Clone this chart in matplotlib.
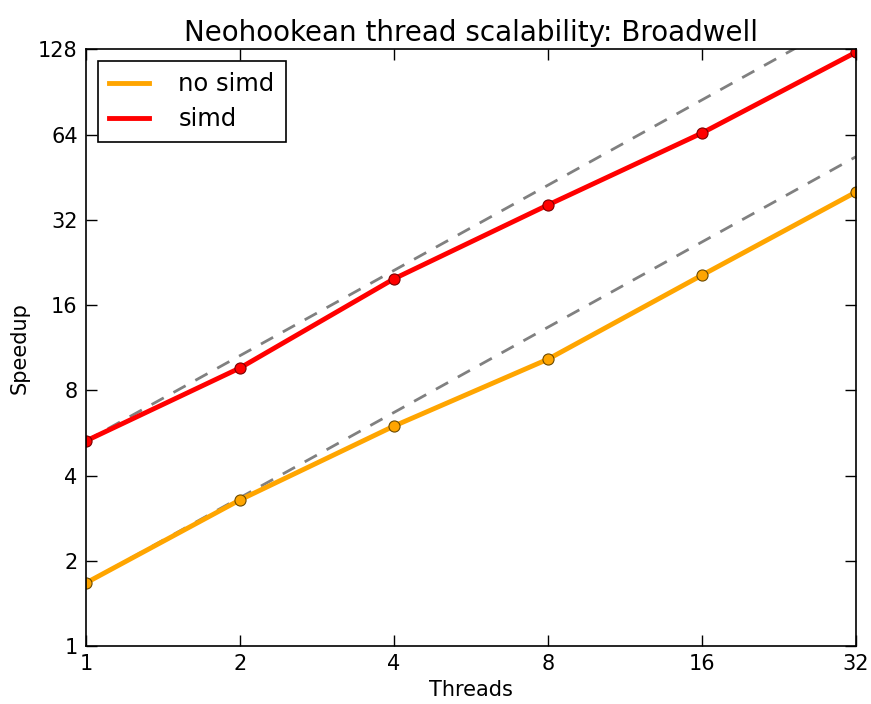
import matplotlib.pyplot as plt
from matplotlib.ticker import FixedLocator, NullLocator, FixedFormatter

threads = [1, 2, 4, 8, 16, 32]
no_simd = [1.67, 3.28, 5.98, 10.3, 20.4, 40.1]
simd = [5.30, 9.59, 19.8, 36.1, 64.8, 125]
y_ticks = [1, 2, 4, 8, 16, 32, 64, 128]

fig = plt.figure(figsize=(8.71, 7.04), dpi=100)
ax = fig.add_axes([0.0987, 0.0824, 0.8841, 0.8476])

# ideal scaling lines
ax.plot(threads, [no_simd[0] * t for t in threads], '--', color='gray', lw=2, dashes=(5, 4))
ax.plot(threads, [simd[0] * t for t in threads], '--', color='gray', lw=2, dashes=(5, 4))

ax.plot(threads, no_simd, '-o', color='orange', lw=3.5, ms=8, mec='#6b4a00', mew=0.8, label='no simd')
ax.plot(threads, simd, '-o', color='red', lw=3.5, ms=8, mec='#7a0000', mew=0.8, label='simd')

ax.set_xscale('log', base=2)
ax.set_yscale('log', base=2)
ax.set_xlim(1, 32)
ax.set_ylim(1, 128)
ax.xaxis.set_major_locator(FixedLocator(threads))
ax.xaxis.set_major_formatter(FixedFormatter([str(t) for t in threads]))
ax.yaxis.set_major_locator(FixedLocator(y_ticks))
ax.yaxis.set_major_formatter(FixedFormatter([str(t) for t in y_ticks]))
ax.xaxis.set_minor_locator(NullLocator())
ax.yaxis.set_minor_locator(NullLocator())
ax.tick_params(direction='in', length=8, width=1, top=True, right=True, labelsize=15, pad=6)
for s in ax.spines.values():
    s.set_linewidth(1.2)

ax.set_xlabel('Threads', fontsize=15, labelpad=4)
ax.set_ylabel('Speedup', fontsize=15, labelpad=6)
ax.set_title('Neohookean thread scalability: Broadwell', fontsize=20, pad=6)

leg = ax.legend(loc='upper left', fontsize=17.5, fancybox=False, framealpha=1,
                edgecolor='black', handlelength=1.65, handletextpad=1.2,
                borderpad=0.45, labelspacing=0.45, borderaxespad=0.5)
leg.get_frame().set_linewidth(1.2)
for h in leg.get_lines():
    h.set_marker('')

fig.savefig('out.png', dpi=100, facecolor='white')
